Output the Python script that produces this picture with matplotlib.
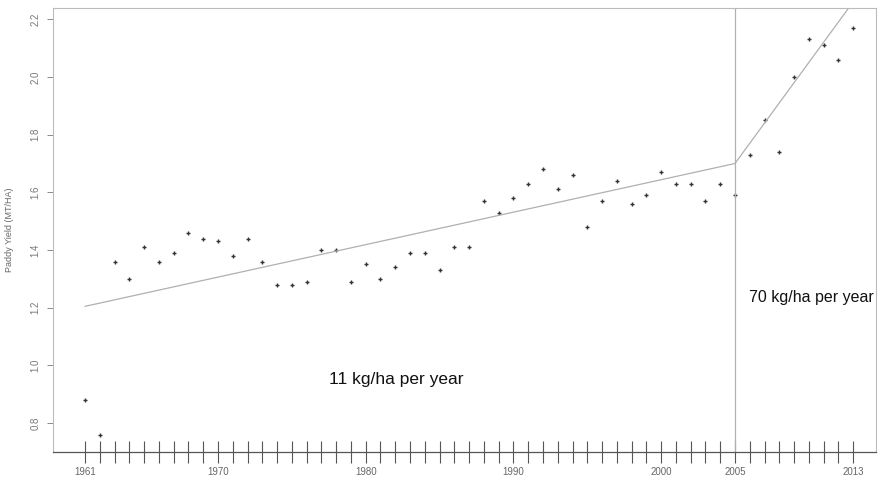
import numpy as np
import matplotlib
matplotlib.use("Agg")
import matplotlib.pyplot as plt

plt.rcParams['font.family'] = ['Liberation Sans', 'DejaVu Sans']

# paddy yield per year (MT/HA)
years = list(range(1961, 2014))
yields = [0.88, 0.76, 1.36, 1.30, 1.41, 1.36, 1.39, 1.46, 1.44, 1.43,
          1.38, 1.44, 1.36, 1.28, 1.28, 1.29, 1.40, 1.40, 1.29, 1.35,
          1.30, 1.34, 1.39, 1.39, 1.33, 1.41, 1.41, 1.57, 1.53, 1.58,
          1.63, 1.68, 1.61, 1.66, 1.48, 1.57, 1.64, 1.56, 1.59, 1.67,
          1.63, 1.63, 1.57, 1.63, 1.59, 1.73, 1.85, 1.74, 2.00, 2.13,
          2.11, 2.06, 2.17]

# piecewise trend (break at 2005)
trend_years = [1961, 2005, 2013]
trend_values = [1.205, 1.70, 2.26]
break_year = 2005

x_labels = [1961, 1970, 1980, 1990, 2000, 2005, 2013]
y_ticks = [0.8, 1.0, 1.2, 1.4, 1.6, 1.8, 2.0, 2.2]

fig = plt.figure(figsize=(8.84, 4.84), dpi=100)
ax = fig.add_axes([0.060, 0.066, 0.931, 0.917])

ax.plot(years, yields, linestyle='none', marker='+', markersize=3.2,
        markeredgewidth=1.0, color='#333333')
ax.plot(trend_years, trend_values, color='#b0b0b0', linewidth=0.9)
ax.axvline(break_year, color='#b0b0b0', linewidth=0.9)

ax.text(1982.05, 0.953, '11 kg/ha per year', fontsize=12.5, ha='center',
        va='center', color='#111111')
ax.text(2010.15, 1.237, '70 kg/ha per year', fontsize=11.5, ha='center',
        va='center', color='#111111')

ax.set_xlim(1958.83, 2014.55)
ax.set_ylim(0.70, 2.238)

ax.set_xticks(years)
ax.set_xticklabels([str(y) if y in x_labels else '' for y in years])
ax.tick_params(axis='x', direction='inout', length=16, width=0.8,
               colors='#555555', labelsize=7, labelcolor='#666666', pad=3)

ax.set_yticks(y_ticks)
ax.set_yticklabels(['%.1f' % v for v in y_ticks], rotation=90, va='center')
ax.tick_params(axis='y', direction='out', length=4, width=0.6,
               colors='#777777', labelsize=7, labelcolor='#777777', pad=5)

ax.set_ylabel('Paddy Yield (MT/HA)', fontsize=6.5, color='#666666', labelpad=12)

for side in ['top', 'right', 'left']:
    ax.spines[side].set_color('#bbbbbb')
    ax.spines[side].set_linewidth(0.8)
ax.spines['bottom'].set_color('#555555')
ax.spines['bottom'].set_linewidth(0.9)

fig.savefig('out.png', dpi=100)
